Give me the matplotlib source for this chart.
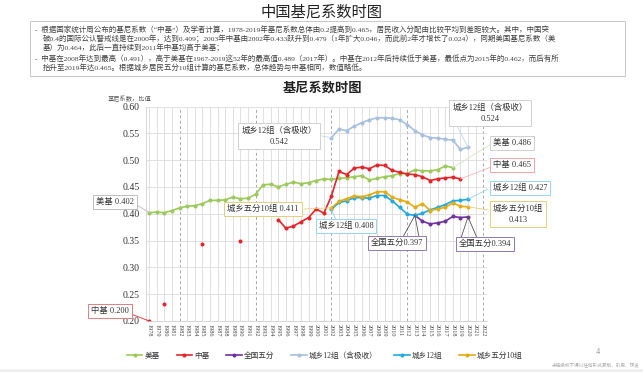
import matplotlib
matplotlib.use("Agg")
import matplotlib.pyplot as plt
import numpy as np
import pandas as pd
from matplotlib.patches import Rectangle

plt.rcParams["font.family"] = ["Liberation Serif", "Noto Sans CJK SC", "DejaVu Sans"]
plt.rcParams["axes.unicode_minus"] = False

# ---- 数据 ----
years_all = list(range(1978, 2023))

us_years = list(range(1978, 2019))
us_gini = [0.402, 0.403, 0.402, 0.406, 0.411, 0.414, 0.415, 0.419, 0.425, 0.425,
           0.426, 0.431, 0.428, 0.429, 0.436, 0.454, 0.455, 0.450, 0.455, 0.459,
           0.456, 0.458, 0.462, 0.465, 0.464, 0.466, 0.467, 0.469, 0.471, 0.463,
           0.466, 0.469, 0.471, 0.475, 0.475, 0.482, 0.480, 0.480, 0.482, 0.489,
           0.486]

cn_years = [1978, 1980, 1985, 1990] + list(range(1995, 2020))
cn_gini = [0.200, 0.232, 0.344, 0.350,
           0.389, 0.373, 0.377, 0.385, 0.393, 0.409, 0.401, 0.433, 0.479, 0.473,
           0.485, 0.487, 0.484, 0.491, 0.490, 0.481, 0.477, 0.474, 0.473, 0.469,
           0.462, 0.465, 0.467, 0.468, 0.465]

nat5_years = list(range(2013, 2021))
nat5_gini = [0.397, 0.386, 0.381, 0.383, 0.386, 0.395, 0.393, 0.394]

ur_years = list(range(2002, 2021))
ur12_top = [0.542, 0.558, 0.555, 0.563, 0.570, 0.575, 0.579, 0.579, 0.578, 0.575,
            0.566, 0.555, 0.547, 0.542, 0.541, 0.539, 0.537, 0.520, 0.524]
ur12 = [0.408, 0.421, 0.424, 0.430, 0.430, 0.429, 0.434, 0.434, 0.424, 0.412,
        0.399, 0.397, 0.401, 0.407, 0.412, 0.417, 0.424, 0.425, 0.427]
ur10 = [0.411, 0.423, 0.428, 0.433, 0.432, 0.435, 0.441, 0.441, 0.431, 0.426,
        0.422, 0.412, 0.419, 0.406, 0.409, 0.412, 0.420, 0.414, 0.413]

series = [
    ("美基", us_years, us_gini, "#9BC95A"),
    ("中基", cn_years, cn_gini, "#E3242B"),
    ("全国五分", nat5_years, nat5_gini, "#7030A0"),
    ("城乡12组（含极收）", ur_years, ur12_top, "#A7C0DE"),
    ("城乡12组", ur_years, ur12, "#20A9E1"),
    ("城乡五分10组", ur_years, ur10, "#E2AC15"),
]

W, H = 643, 372


def fx(px):
    return px / W


def fy(py):
    return 1 - py / H


fig = plt.figure(figsize=(W / 100, H / 100), dpi=100)
fig.patch.set_facecolor("white")

# 顶部标题与说明框
fig.text(fx(322), fy(12), "中国基尼系数时图", ha="center", va="center",
         fontsize=11, color="#222222")
fig.patches.append(Rectangle((fx(30), fy(76)), fx(595), 55 / H, transform=fig.transFigure,
                             fill=False, ec="#C8C8C8", lw=0.7))
notes = [
    (35, 29, "-  根据国家统计局公布的基尼系数（“中基”）及学者计算，1978-2019年基尼系数总体由0.2提高到0.465，居民收入分配由比较平均到差距较大。其中，中国突"),
    (43, 38.5, "破0.4的国际公认警戒线是在2000年，达到0.409；2003年中基由2002年0.433跃升到0.479（1年扩大0.046，而此前2年才增长了0.024），同期美国基尼系数（美"),
    (43, 48, "基）为0.464，此后一直持续到2011年中基均高于美基；"),
    (35, 58, "-  中基在2008年达到最高（0.491），高于美基在1967-2019这52年的最高值0.489（2017年）。中基在2012年后持续低于美基，最低点为2015年的0.462，而后有所"),
    (43, 67, "抬升至2019年达0.465。根据城乡居民五分10组计算的基尼系数，总体趋势与中基相同，数值略低。"),
]
for x, y, s in notes:
    fig.text(fx(x), fy(y), s, ha="left", va="center", fontsize=5.4, color="#404040")

# ---- 主图 ----
ax = fig.add_axes([fx(145.5), fy(321), (487 - 145.5) / W, (321 - 106.5) / H])
ax.set_xlim(1977.5, 2022.5)
ax.set_ylim(0.20, 0.60)

for yr in years_all:
    if yr in (1982, 1992, 2002, 2012, 2022):
        ax.axvline(yr, color="#A8A8A8", lw=0.7, ls=(0, (3, 2.5)), zorder=0.5)
    else:
        ax.axvline(yr, color="#DCDCDC", lw=0.6, zorder=0.4)
ax.yaxis.grid(True, color="#DCDCDC", lw=0.6)
ax.set_axisbelow(True)

for name, yrs, vals, col in series:
    s = pd.Series(vals, index=yrs).reindex(years_all)
    ax.plot(years_all, s.values, color=col, lw=1.2, marker="o", ms=1.9,
            mec=col, mfc=col, label=name, zorder=2)

ax.set_yticks(np.arange(0.20, 0.601, 0.05))
ax.set_yticklabels([f"{v:.2f}" for v in np.arange(0.20, 0.601, 0.05)],
                   fontsize=7, color="#333333")
ax.set_xticks(years_all)
ax.set_xticklabels([str(y) for y in years_all], rotation=270, fontsize=4.5, color="#444444")
ax.tick_params(length=0, pad=4)
ax.tick_params(axis="x", pad=2)
for side in ("top", "right"):
    ax.spines[side].set_visible(False)
for side in ("left", "bottom"):
    ax.spines[side].set_color("#D0D0D0")
    ax.spines[side].set_linewidth(0.6)

fig.text(fx(108), fy(99), "基尼系数，比值", ha="left", va="center", fontsize=4.5, color="#555555")
fig.text(fx(322), fy(88), "基尼系数时图", ha="center", va="center", fontsize=9.5,
         fontweight="bold", color="#222222")


# ---- 数据标注框 ----
def leader(p_from, xy, color):
    ax.annotate("", xy=xy, xycoords="data", xytext=(fx(p_from[0]), fy(p_from[1])),
                textcoords="figure fraction", annotation_clip=False,
                arrowprops=dict(arrowstyle="-", color=color, lw=0.6, shrinkA=0, shrinkB=0))


def box(text, center, ec):
    fig.text(fx(center[0]), fy(center[1]), text, ha="center", va="center", fontsize=6,
             color="#333333", linespacing=1.5, zorder=6,
             bbox=dict(boxstyle="square,pad=0.35", fc="white", ec=ec, lw=0.7))


box("美基 0.402", (115, 202), "#BDBDBD")
leader((137, 205), (us_years[0], us_gini[0]), "#BDBDBD")

box("中基 0.200", (110, 311), "#E07F7F")
leader((131, 314), (cn_years[0], cn_gini[0]), "#E3242B")

box("城乡12组（含极收）\n0.542", (279, 136), "#D0D0D0")
leader((322, 136), (ur_years[0], ur12_top[0]), "#C8D6E8")

box("城乡五分10组 0.411", (263, 209), "#E5CF7A")
leader((304, 209), (ur_years[0], ur10[0]), "#E5CF7A")

box("城乡12组 0.408", (346, 226), "#9AD3EE")
leader((336, 220), (ur_years[0], ur12[0]), "#9AD3EE")

box("全国五分0.397", (397, 243), "#8E7AAE")
leader((403, 237), (nat5_years[0], nat5_gini[0]), "#555555")
leader((419, 237), (nat5_years[0], nat5_gini[0]), "#555555")

box("全国五分0.394", (485, 244), "#8E7AAE")
leader((461, 238), (nat5_years[-1], nat5_gini[-1]), "#555555")
leader((477, 238), (nat5_years[-1], nat5_gini[-1]), "#555555")

box("城乡12组（含极收）\n0.524", (490, 113), "#D0D0D0")
leader((456, 124), (ur_years[-1], ur12_top[-1]), "#C8D6E8")

box("美基 0.486", (512, 143), "#D0D0D0")
leader((491, 144), (us_years[-1], us_gini[-1]), "#D5E8C0")

box("中基 0.465", (512, 165), "#F0A5A5")
leader((491, 167), (cn_years[-1], cn_gini[-1]), "#F4B5B5")

box("城乡12组 0.427", (520, 188), "#9AD3EE")
leader((488, 189), (ur_years[-1], ur12[-1]), "#9AD3EE")

box("城乡五分10组\n0.413", (518, 214), "#E5CF7A")
leader((488, 210), (ur_years[-1], ur10[-1]), "#E5CF7A")

# ---- 图例与页脚 ----
fig.legend(loc="center", bbox_to_anchor=(fx(325), fy(356)), ncol=6, frameon=False,
           fontsize=5.5, handlelength=2.0, handletextpad=0.3, columnspacing=2.2,
           labelcolor="#333333")
fig.text(fx(598), fy(352), "4", ha="center", va="center", fontsize=6, color="#999999")
fig.text(fx(640), fy(366), "未经授权不得以任何形式复制、引用、转发", ha="right", va="center",
         fontsize=3.3, color="#AAAAAA")
fig.patches.append(Rectangle((0, 0), 1, 3 / H, transform=fig.transFigure,
                             fc="#EEEEEE", ec="none"))

fig.savefig("out.png", dpi=100, facecolor="white")
